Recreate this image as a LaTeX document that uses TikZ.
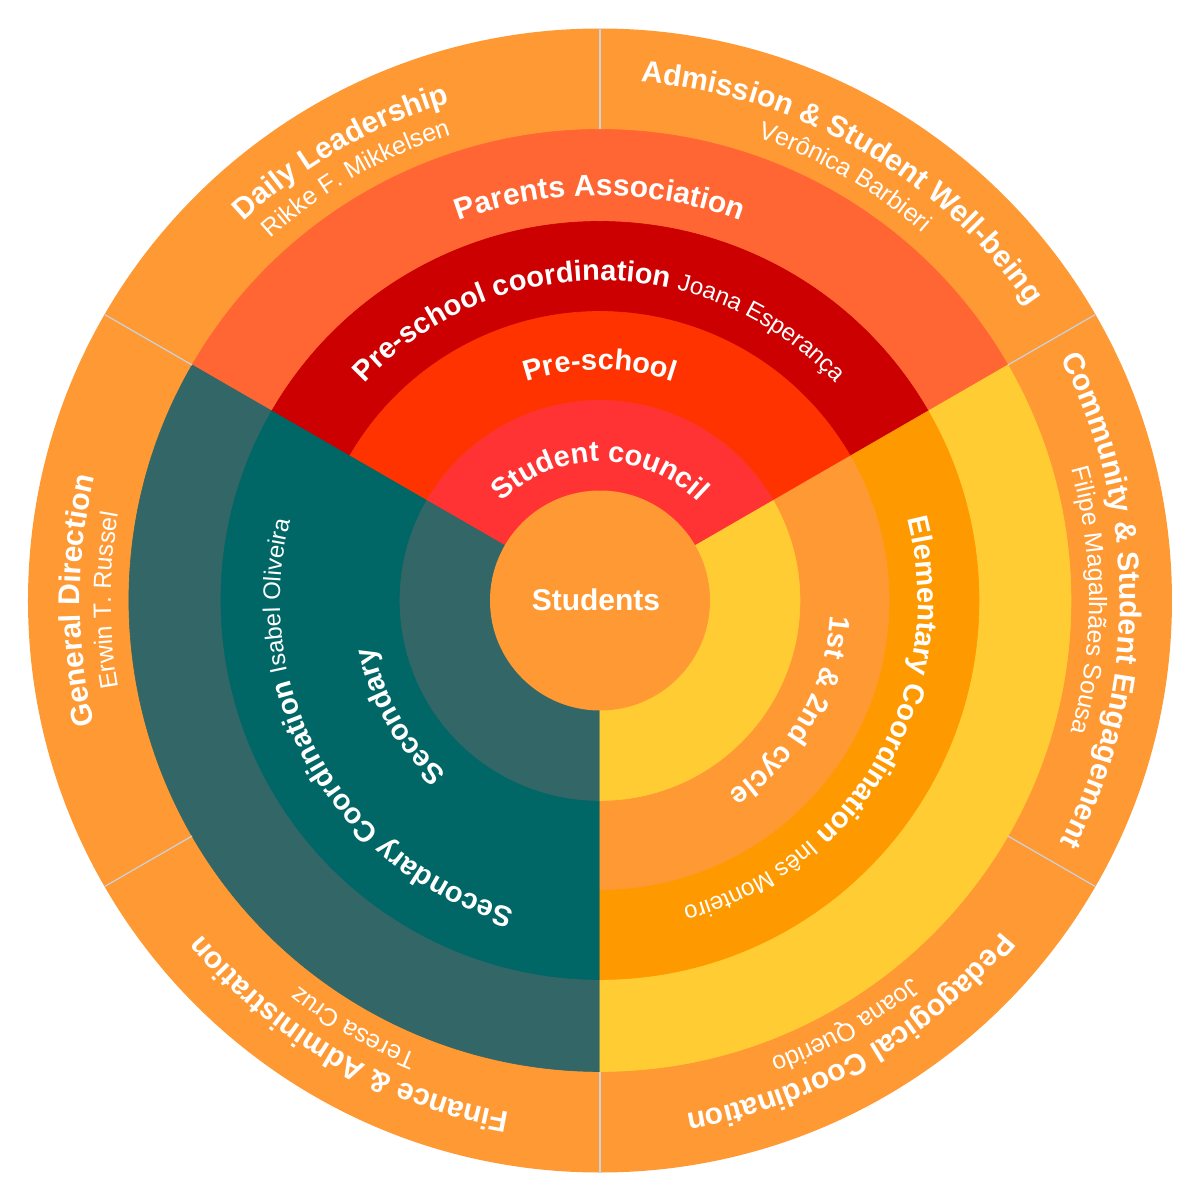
\documentclass[tikz,border=0pt]{standalone}
\usepackage{fontspec}
\setmainfont{Liberation Sans}
\usetikzlibrary{decorations.text}
\definecolor{cOrange}{HTML}{FF9933}
\definecolor{cDeepOrange}{HTML}{FF9900}
\definecolor{cYellow}{HTML}{FFCC33}
\definecolor{cRedLight}{HTML}{FF3333}
\definecolor{cRedOrange}{HTML}{FF3300}
\definecolor{cDarkRed}{HTML}{CC0000}
\definecolor{cCoral}{HTML}{FF6633}
\definecolor{cTeal}{HTML}{006666}
\definecolor{cSlate}{HTML}{336666}
\definecolor{cSep}{HTML}{C9D2DD}
% outer-ring and large labels
\newcommand\mybf{\fontsize{15}{18}\selectfont\bfseries}
\newcommand\myrg{\fontsize{12.5}{15}\selectfont}
% inner-ring labels
\newcommand\myibf{\fontsize{14.5}{17}\selectfont\bfseries}
\newcommand\myirg{\fontsize{12}{14}\selectfont}
\newcommand\myslice[4]{\fill[slice=#4] (0,0) -- (#1:#3) arc[start angle=#1, end angle=#2, radius=#3] -- cycle;}
\newcommand\arclabel[3]{\path[decorate, decoration={text along path, text align=center, text color=white, text={#3}}] (#1+80:#2) arc[start angle=#1+80, end angle=#1-80, radius=#2];}
\begin{document}
\begin{tikzpicture}[x=0.5pt,y=0.5pt,
  slice/.style={fill=#1, draw=#1, line width=0.3pt},
  sep/.style={draw=cSep, line width=0.6pt}]
\useasboundingbox (-600,-600.5) rectangle (600,600.5);
% outer ring
\fill[cOrange] (0,0) circle[radius=572];
% ring 4
\myslice{30}{150}{471}{cCoral}
\myslice{150}{270}{471}{cSlate}
\myslice{270}{390}{471}{cYellow}
% ring 3
\myslice{30}{150}{379}{cDarkRed}
\myslice{150}{270}{379}{cTeal}
\myslice{270}{390}{379}{cDeepOrange}
% ring 2
\myslice{30}{150}{289}{cRedOrange}
\myslice{150}{270}{289}{cTeal}
\myslice{270}{390}{289}{cOrange}
% ring 1
\myslice{30}{150}{200}{cRedLight}
\myslice{150}{270}{200}{cSlate}
\myslice{270}{390}{200}{cYellow}
% centre
\fill[cOrange] (0,0) circle[radius=110];
\node[font=\mybf, text=white] (students) at (-4,1) {Students};
% separators of the outer ring
\foreach \a in {30,90,...,330} \draw[sep] (\a:471) -- (\a:572);
% inner labels
\arclabel{90}{139}{|\myibf|Student council}
\arclabel{90}{231}{|\myibf|Pre-school}
\arclabel{90}{320}{|\myibf|Pre-school coordination |\myirg|Joana Esperança}
\arclabel{90}{405}{|\mybf|Parents Association}
\arclabel{210}{320}{|\myibf|Secondary Coordination |\myirg|Isabel Oliveira}
\arclabel{210}{231}{|\myibf|Secondary}
\arclabel{-30}{318}{|\myibf|Elementary Coordination |\myirg|Inês Monteiro}
\arclabel{-30}{231}{|\myibf|1st {\&} 2nd cycle}
% outer labels
\arclabel{120}{520}{|\mybf|Daily Leadership}
\arclabel{120}{489}{|\myrg|Rikke F. Mikkelsen}
\arclabel{60}{520}{|\mybf|Admission {\&} Student Well-being}
\arclabel{60}{489}{|\myrg|Verônica Barbieri}
\arclabel{0}{520}{|\mybf|Community {\&} Student Engagement}
\arclabel{0}{489}{|\myrg|Filipe Magalhães Sousa}
\arclabel{300}{520}{|\mybf|Pedagogical Coordination}
\arclabel{300}{489}{|\myrg|Joana Querido}
\arclabel{240}{520}{|\mybf|Finance {\&} Administration}
\arclabel{240}{489}{|\myrg|Teresa Cruz}
\arclabel{180}{520}{|\mybf|General Direction}
\arclabel{180}{489}{|\myrg|Erwin T. Russel}
\end{tikzpicture}
\end{document}
